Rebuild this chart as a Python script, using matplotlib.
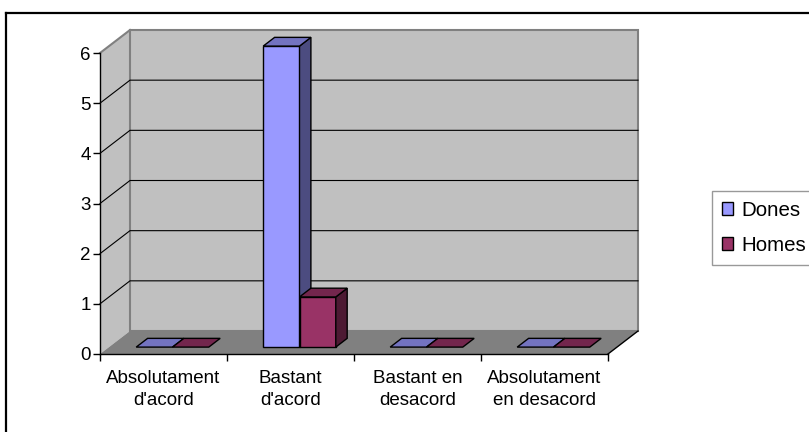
import numpy as np
import matplotlib.pyplot as plt
from matplotlib.patches import Polygon, Patch
from matplotlib.lines import Line2D

plt.rcParams['font.family'] = ['Liberation Sans', 'DejaVu Sans']

categories = ["Absolutament\nd'acord", "Bastant\nd'acord", "Bastant en\ndesacord", "Absolutament\nen desacord"]
series = ["Dones", "Homes"]
dones = [0, 6, 0, 0]
homes = [0, 1, 0, 0]
yticks = [0, 1, 2, 3, 4, 5, 6]

front = ["#9999ff", "#993366"]
top = ["#7373c0", "#73264d"]
side = ["#4c4c80", "#4d1a33"]

fig = plt.figure(figsize=(8.09, 4.32), dpi=100)
ax = fig.add_axes([100/809, 78/432, 508/809, 301/432])
ax.set_xlim(0, 4)
ax.set_ylim(0, 6)
ax.patch.set_alpha(0)

# profondeur du graphique 3d (unites de donnees)
dx = 30/127
dy = 23/50.17
n = len(categories)
ymax = yticks[-1]

# murs et sol
ax.add_patch(Polygon([(0, 0), (0, ymax), (dx, ymax+dy), (dx, dy)], closed=True,
                     fc="#c0c0c0", ec="none", clip_on=False, zorder=0))
ax.add_patch(Polygon([(dx, dy), (n+dx, dy), (n+dx, ymax+dy), (dx, ymax+dy)], closed=True,
                     fc="#c0c0c0", ec="#808080", lw=1.5, clip_on=False, zorder=0))
ax.add_patch(Polygon([(0, 0), (n, 0), (n+dx, dy), (dx, dy)], closed=True,
                     fc="#808080", ec="none", clip_on=False, zorder=0.5))
ax.plot([n, n+dx], [0, dy], color="black", lw=1, clip_on=False, zorder=0.6)
ax.plot([0, dx], [ymax, ymax+dy], color="#808080", lw=1.5, clip_on=False, zorder=0.6)
for v in yticks[1:-1]:
    ax.plot([0, dx, n+dx], [v, v+dy, v+dy], color="black", lw=0.8, clip_on=False, zorder=0.7)

# barres
bw = 1/3.5
z0, z1 = 0.3, 0.68
for i in range(n):
    for j, vals in enumerate([dones, homes]):
        v = vals[i]
        xl = i + 0.5 - bw + j*bw + z0*dx
        xr = xl + bw
        yb = z0*dy
        ddx = (z1-z0)*dx
        ddy = (z1-z0)*dy
        kw = dict(closed=True, ec="black", lw=1, clip_on=False, zorder=2)
        if v > 0:
            ax.add_patch(Polygon([(xl, yb), (xr, yb), (xr, yb+v), (xl, yb+v)], fc=front[j], **kw))
            ax.add_patch(Polygon([(xr, yb), (xr+ddx, yb+ddy), (xr+ddx, yb+v+ddy), (xr, yb+v)], fc=side[j], **kw))
        ax.add_patch(Polygon([(xl, yb+v), (xr, yb+v), (xr+ddx, yb+v+ddy), (xl+ddx, yb+v+ddy)], fc=top[j], **kw))

# axes
for s in ["top", "right"]:
    ax.spines[s].set_visible(False)
ax.spines["left"].set_linewidth(1)
ax.spines["bottom"].set_linewidth(1)
ax.set_yticks(yticks)
ax.tick_params(axis="y", length=5, width=1, pad=1.5, labelsize=13.5)
ax.set_xticks(np.arange(n+1))
ax.set_xticklabels([])
ax.tick_params(axis="x", which="major", length=5, width=1)
ax.set_xticks(np.arange(n)+0.5, minor=True)
ax.set_xticklabels(categories, minor=True, fontsize=13.5, linespacing=1.38)
ax.tick_params(axis="x", which="minor", length=0, pad=11.5)

handles = [Patch(fc=front[k], ec="black", lw=1) for k in range(2)]
fig.legend(handles, series, loc="upper left", bbox_to_anchor=(711.5/809, 1-190.5/432),
           fontsize=14.8, frameon=True, fancybox=False, edgecolor="#808080",
           handlelength=0.55, handleheight=0.55, handletextpad=0.4, labelspacing=0.78,
           borderpad=0.5, borderaxespad=0)

# cadre du graphique
fig.add_artist(Line2D([6/809, 1.01], [1-13/432, 1-13/432], color="black", lw=1.6))
fig.add_artist(Line2D([6/809, 6/809], [1-13/432, -0.01], color="black", lw=1.6))

fig.savefig("out.png", dpi=100)
